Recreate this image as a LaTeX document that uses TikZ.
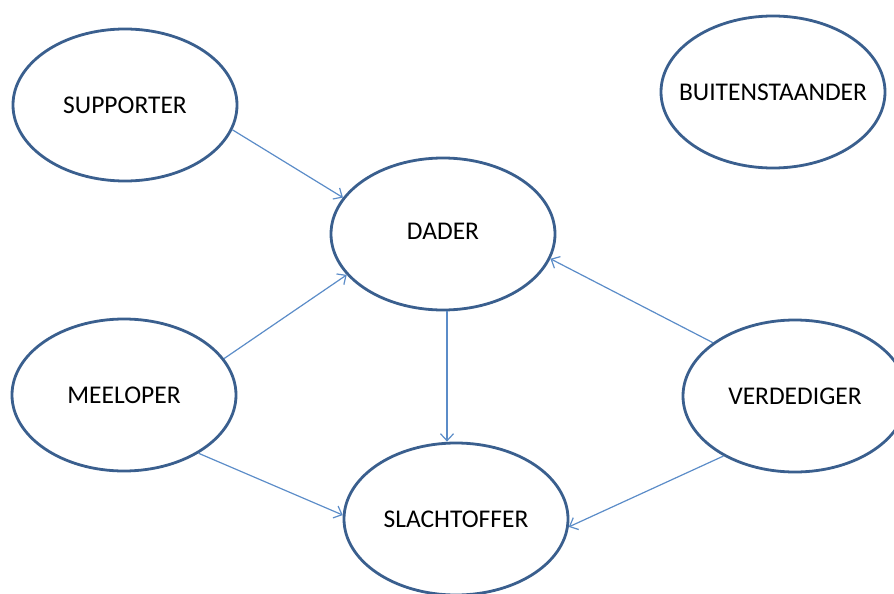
\documentclass[tikz,border=0pt]{standalone}
\usepackage{fontspec}
\setmainfont{Carlito}
\usetikzlibrary{arrows.meta,shapes.geometric}
\definecolor{rim}{HTML}{3A5F8E}
\definecolor{link}{HTML}{5B8CC8}
\begin{document}
\begin{tikzpicture}[x=1pt,y=-1pt,
  role/.style={ellipse,draw=rim,line width=2.8pt,fill=white,minimum width=224pt,minimum height=152pt,inner sep=0pt,font=\fontsize{25.5}{30}\selectfont},
  arr/.style={draw=link,line width=1.2pt,-{Straight Barb[length=7pt,width=13pt,line width=1.2pt]}}]
\useasboundingbox (0,0) rectangle (894,594);
\node[role] (supporter) at (125,105) {\makebox[0pt]{SUPPORTER}};
\node[role] (buiten) at (773,92) {\makebox[0pt]{BUITENSTAANDER}};
\node[role] (dader) at (443,234) {\raisebox{5pt}{\makebox[0pt]{DADER}}};
\node[role] (meeloper) at (124,395) {\makebox[0pt]{MEELOPER}};
\node[role] (verdediger) at (795,396) {\makebox[0pt]{VERDEDIGER}};
\node[role] (slachtoffer) at (456,519) {\makebox[0pt]{SLACHTOFFER}};
\draw[arr] (supporter.-13.7) -- (dader.160);
\draw[arr] (meeloper.20) -- (dader.203.7);
\draw[arr] (meeloper.-38.3) -- (slachtoffer.178);
\draw[arr] ([xshift=4pt]dader.south) -- ([xshift=-9pt]slachtoffer.north);
\draw[arr] (verdediger.147) -- (dader.-13.4);
\draw[arr] (verdediger.220.6) -- (slachtoffer.-4);
\end{tikzpicture}
\end{document}
